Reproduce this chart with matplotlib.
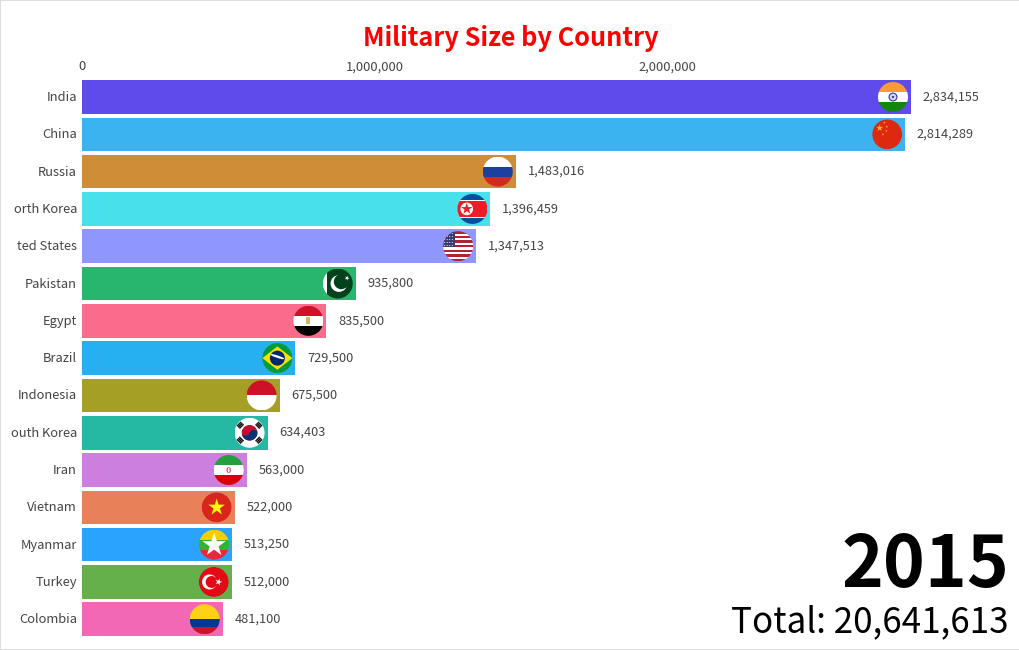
import numpy as np
import matplotlib
matplotlib.use("Agg")
import matplotlib.pyplot as plt
from matplotlib.patches import Rectangle, Circle, Polygon, Wedge, Ellipse
from matplotlib.path import Path
from matplotlib.transforms import Affine2D

plt.rcParams['font.family'] = ['Noto Sans CJK SC', 'DejaVu Sans']

# Labels as the reference shows them (its long names lose their first letters at the left edge).
countries = ["India", "China", "Russia", "orth Korea", "ted States", "Pakistan", "Egypt", "Brazil",
             "Indonesia", "outh Korea", "Iran", "Vietnam", "Myanmar", "Turkey", "Colombia"]
values = [2834155, 2814289, 1483016, 1396459, 1347513, 935800, 835500, 729500,
          675500, 634403, 563000, 522000, 513250, 512000, 481100]
colors = ["#5F4AEB", "#3BB3F0", "#CF8D38", "#48E0EA", "#8F97FF", "#28B56E", "#FB6B8C", "#26B0F2",
          "#A5A025", "#25B8A3", "#CD7FE0", "#E88059", "#29A3FD", "#65B04B", "#F368B5"]
x_ticks = [0, 1000000, 2000000]
title = "Military Size by Country"
year = "2015"
total = 20641613

W, H = 1020, 650
fig = plt.figure(figsize=(W / 100, H / 100), dpi=100, facecolor="white")
ax = fig.add_axes([82 / W, 1 - 637.9 / H, (1018 - 82) / W, (637.9 - 78.35) / H])
ax.set_xlim(0, (1018 - 82) / 0.0002925)
ax.set_ylim(14.5, -0.5)
for s in ax.spines.values():
    s.set_visible(False)

y = np.arange(len(values))
ax.barh(y, values, height=0.9, color=colors, zorder=2)

ax.xaxis.tick_top()
ax.set_xticks(x_ticks, [f"{t:,}" for t in x_ticks])
ax.set_yticks([])
ax.tick_params(axis="x", length=0, labelsize=9.3, labelcolor="#444444", pad=3.5)

for yi, name in zip(y, countries):
    ax.annotate(name, (0, yi), xytext=(-3.6, 0.7), textcoords="offset points",
                va="center_baseline", ha="right", fontsize=9.3, color="#444444")

for yi, v in zip(y, values):
    ax.annotate(f"{v:,}", (v, yi), xytext=(8.4, 1.2), textcoords="offset points",
                va="center_baseline", ha="left", fontsize=9.2, color="#444444")

fig.text(510.5 / W, 1 - 46 / H, title, ha="center", va="baseline", color="#FF0000",
         fontsize=18.2, fontweight="bold")
fig.text(1009 / W, 1 - 587 / H, year, ha="right", va="baseline", color="#000000",
         fontsize=51.2, fontweight="bold")
fig.text(1009 / W, 1 - 632 / H, f"Total: {total:,}", ha="right", va="baseline",
         color="#000000", fontsize=25.2)

fig.add_artist(Rectangle((0, 0), 1, 1, transform=fig.transFigure, fill=False,
                         edgecolor="#DDDDDD", linewidth=1.44))


# ---- flags: round badges drawn in a unit circle, placed from each bar's value ----
R = 15
OFFSET_PX = 18


class Flag:
    def __init__(self, cx, cy):
        self.T = Affine2D().scale(R).translate(cx, cy)
        self.clip = Path.unit_circle()

    def add(self, p):
        p.set_transform(self.T)
        p.set_zorder(4)
        p.set_linewidth(0)
        ax.add_patch(p)
        p.set_clip_path(self.clip, self.T)
        return p

    def band(self, y0, y1, c, x0=-1, x1=1):
        self.add(Rectangle((x0, y0), x1 - x0, y1 - y0, facecolor=c))

    def disc(self, x, y_, r, c):
        self.add(Circle((x, y_), r, facecolor=c))

    def star(self, x, y_, r, c, rot=0):
        ang = np.pi / 2 + rot + np.arange(10) * np.pi / 5
        rad = np.where(np.arange(10) % 2 == 0, r, r * 0.382)
        self.add(Polygon(np.c_[x + rad * np.cos(ang), y_ + rad * np.sin(ang)], facecolor=c))

    def poly(self, pts, c):
        self.add(Polygon(pts, facecolor=c))


def india(f):
    f.band(1/3, 1, "#FF9A35"); f.band(-1/3, 1/3, "#FFFFFF"); f.band(-1, -1/3, "#138808")
    f.disc(0, 0, 0.30, "#3B3F9A"); f.disc(0, 0, 0.22, "#DADAF0"); f.disc(0, 0, 0.08, "#3B3F9A")

def china(f):
    f.disc(0, 0, 1, "#DE2910")
    f.star(-0.5, 0.42, 0.24, "#F5B53A")
    for a, b in [(-0.18, 0.78), (-0.03, 0.50), (-0.06, 0.22), (-0.28, 0.00)]:
        f.star(a, b, 0.09, "#F5B53A")

def russia(f):
    f.band(1/3, 1, "#FFFFFF"); f.band(-1/3, 1/3, "#1C3FA0"); f.band(-1, -1/3, "#D52B1E")

def north_korea(f):
    f.band(-1, 1, "#024FA2"); f.band(-0.60, 0.60, "#FFFFFF"); f.band(-0.52, 0.52, "#ED1C27")
    f.disc(-0.38, 0, 0.42, "#FFFFFF"); f.star(-0.38, 0, 0.40, "#ED1C27")

def usa(f):
    n = 13
    for i in range(n):
        f.band(1 - (i + 1) * 2 / n, 1 - i * 2 / n, "#B22234" if i % 2 == 0 else "#FFFFFF")
    f.band(-0.08, 1, "#3C3B6E", x1=-0.2)
    for a in np.arange(-0.9, -0.25, 0.17):
        for b in np.arange(0.05, 0.95, 0.2):
            f.disc(a, b, 0.035, "#FFFFFF")

def pakistan(f):
    f.band(-1, 1, "#01411C"); f.band(-1, 1, "#FFFFFF", x1=-0.72)
    f.disc(0.08, 0, 0.56, "#FFFFFF"); f.disc(0.24, 0.12, 0.50, "#01411C")
    f.star(0.62, 0.36, 0.17, "#FFFFFF", rot=-0.5)

def egypt(f):
    f.band(1/3, 1, "#CE1126"); f.band(-1/3, 1/3, "#FFFFFF"); f.band(-1, -1/3, "#000000")
    f.add(Rectangle((-0.14, -0.24), 0.28, 0.48, facecolor="#D8B365"))

def brazil(f):
    f.band(-1, 1, "#009B3A")
    f.poly([(-1, 0), (0, 0.78), (1, 0), (0, -0.78)], "#FEDF00")
    f.disc(0, 0, 0.50, "#002776")
    f.add(Ellipse((0, 0.10), 0.96, 0.16, angle=-18, facecolor="#FFFFFF"))

def indonesia(f):
    f.band(0, 1, "#CE1126"); f.band(-1, 0, "#FFFFFF")

def south_korea(f):
    f.band(-1, 1, "#FFFFFF")
    f.disc(0, 0, 0.52, "#C60C30")
    f.add(Wedge((0, 0), 0.52, 195, 15, facecolor="#003478"))
    f.disc(-0.25, 0.07, 0.26, "#C60C30"); f.disc(0.25, -0.07, 0.26, "#003478")
    for a, b in [(-1, 1), (1, 1), (-1, -1), (1, -1)]:
        cx_, cy_ = 0.62 * a, 0.50 * b
        th = np.arctan2(b, a)
        rot = np.array([[np.cos(th), -np.sin(th)], [np.sin(th), np.cos(th)]])
        for k in (-0.11, 0, 0.11):
            corners = np.array([[-0.05, -0.20], [0.05, -0.20], [0.05, 0.20], [-0.05, 0.20]])
            f.poly((corners + [k, 0]) @ rot.T + [cx_, cy_], "#111111")

def iran(f):
    f.band(1/3, 1, "#239F40"); f.band(-1/3, 1/3, "#FFFFFF"); f.band(-1, -1/3, "#DA0000")
    f.add(Ellipse((0, 0), 0.30, 0.40, facecolor="#D8505A"))
    f.add(Ellipse((0, 0), 0.12, 0.32, facecolor="#FFFFFF"))

def vietnam(f):
    f.disc(0, 0, 1, "#DA251D"); f.star(0, 0, 0.58, "#FFFF00")

def myanmar(f):
    f.band(1/3, 1, "#FECB00"); f.band(-1/3, 1/3, "#34B233"); f.band(-1, -1/3, "#EA2839")
    f.star(0, -0.02, 0.82, "#FFFFFF")

def turkey(f):
    f.disc(0, 0, 1, "#E30A17")
    f.disc(-0.28, 0, 0.50, "#FFFFFF"); f.disc(-0.14, 0, 0.40, "#E30A17")
    f.star(0.32, 0, 0.24, "#FFFFFF", rot=-np.pi / 2)

def colombia(f):
    f.band(0, 1, "#FCD116"); f.band(-0.5, 0, "#003893"); f.band(-1, -0.5, "#CE1126")


flag_painters = [india, china, russia, north_korea, usa, pakistan, egypt, brazil,
                 indonesia, south_korea, iran, vietnam, myanmar, turkey, colombia]

fig.canvas.draw()
for yi, v, paint in zip(y, values, flag_painters):
    px, py = ax.transData.transform((v, yi))
    paint(Flag(px - OFFSET_PX, py))

fig.savefig("out.png", dpi=100, facecolor="white")
